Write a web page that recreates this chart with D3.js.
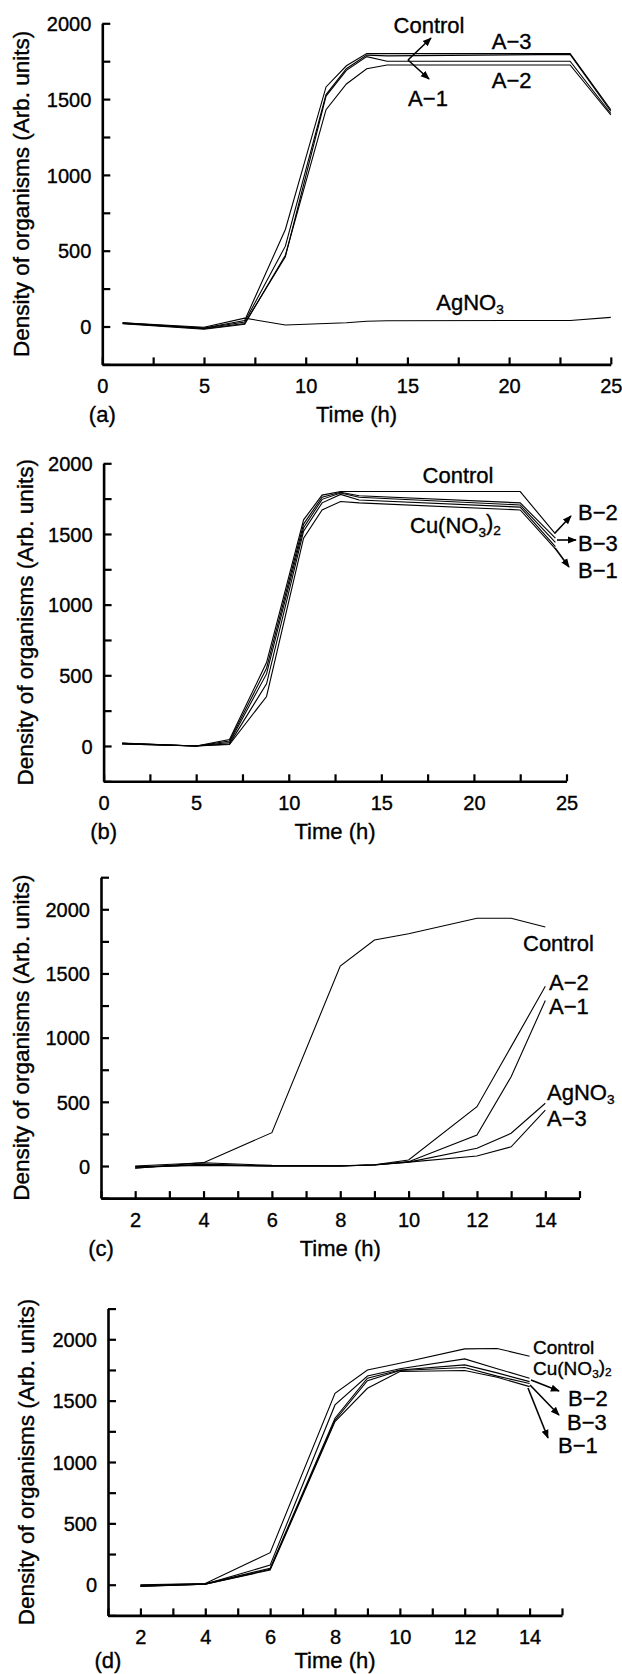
<!DOCTYPE html>
<html><head><meta charset="utf-8">
<script src="https://cdn.jsdelivr.net/npm/d3@7"></script>
<style>
body{margin:0;background:#fff}
svg{display:block}
text{font-family:"Liberation Sans",Arial,sans-serif;fill:#000;stroke:#000;stroke-width:0.35px}
</style>
</head><body>
<svg id="chart" width="622" height="1674"></svg>
<script>
// ---------- DATA ----------
// Panel (a)
const hoursA   = [1, 5, 7, 9, 11, 12, 13, 14, 23, 25];
const controlA = [25, -10, 40, 640, 1580, 1720, 1800, 1800, 1800, 1430];
const a3A      = [20, -12, 30, 530, 1530, 1700, 1790, 1785, 1795, 1420];
const a1A      = [22, -15, 20, 460, 1520, 1690, 1780, 1750, 1750, 1405];
const a2A      = [18, -18, 15, 470, 1430, 1600, 1700, 1725, 1725, 1395];
const agno3A   = [25, -5, 55, 10, 20, 25, 35, 38, 40, 60];
// Panel (b)
const hoursB   = [1, 5, 6.8, 8.8, 10.8, 11.8, 12.8, 13.8, 22.5, 24.4];
const controlB = [20, 0, 45, 590, 1600, 1775, 1800, 1800, 1800, 1500];
const b2B      = [18, 0, 35, 550, 1570, 1760, 1795, 1770, 1720, 1470];
const b3B      = [18, 0, 25, 510, 1545, 1745, 1790, 1760, 1705, 1440];
const b1B      = [15, 0, 15, 440, 1520, 1720, 1780, 1740, 1690, 1410];
const cuB      = [15, 0, 10, 350, 1470, 1670, 1730, 1720, 1670, 1395];
// Panel (c)
const hoursC   = [2, 4, 6, 8, 9, 10, 12, 13, 14];
const controlC = [-18, 26, 260, 1558, 1761, 1810, 1930, 1930, 1862];
const a2C      = [-10, 10, 0, 0, 10, 47, 462, 930, 1400];
const a1C      = [-15, 15, 0, 0, 8, 34, 241, 696, 1290];
const agno3C   = [0, 25, 5, 2, 10, 30, 138, 255, 489];
const a3C      = [-5, 5, 0, 0, 8, 30, 78, 150, 436];
// Panel (d)
const hoursD   = [2, 4, 6, 8, 9, 10, 12, 13, 14];
const controlD = [0, 10, 261, 1560, 1750, 1805, 1922, 1925, 1862];
const cuD      = [-15, 5, 160, 1465, 1701, 1760, 1840, 1760, 1683];
const b2D      = [-5, 8, 134, 1357, 1683, 1750, 1791, 1726, 1655];
const b3D      = [-10, 5, 125, 1340, 1663, 1745, 1770, 1700, 1640];
const b1D      = [-12, 5, 120, 1329, 1601, 1737, 1745, 1690, 1614];

const xTicksLong  = [0, 2.5, 5, 7.5, 10, 12.5, 15, 17.5, 20, 22.5, 25];
const xTicksShort = [1, 2, 3, 4, 5, 6, 7, 8, 9, 10, 11, 12, 13, 14, 15];
const yTicksAB = [-250, 0, 250, 500, 750, 1000, 1250, 1500, 1750, 2000];
const yTicksCD = [-250, 0, 250, 500, 750, 1000, 1250, 1500, 1750, 2000, 2250];
const xLabel = "Time (h)";
const yLabel = "Density of organisms (Arb. units)";

// ---------- LAYOUT ----------
const panels = [
  { tag: "(a)", x0: 102.3, x1: 610.8, xDomain: [0, 25], yTop: 23.3, yBottom: 364.4, yDomain: [-250, 2000],
    xTicks: xTicksLong, xLabelEvery: 5, yTicks: yTicksAB, titleDX: -81, capDY: 50,
    hours: hoursA, series: [controlA, a3A, a1A, a2A, agno3A],
    notes: [
      {t: "Control", x: 429, y: 25, anchor: "middle", size: 22},
      {t: "A\u22123", x: 511.7, y: 40.7, anchor: "middle", size: 22},
      {t: "A\u22122", x: 511.7, y: 80, anchor: "middle", size: 22},
      {t: "A\u22121", x: 428, y: 98, anchor: "middle", size: 22},
      {t: "AgNO", sub: "3", x: 470, y: 302, anchor: "middle", size: 22}
    ],
    arrows: [[408, 60, 431, 38], [408, 60, 429, 79]] },
  { tag: "(b)", x0: 103.6, x1: 566.5, xDomain: [0, 25], yTop: 463.3, yBottom: 781.3, yDomain: [-250, 2000],
    xTicks: xTicksLong, xLabelEvery: 5, yTicks: yTicksAB, titleDX: -79, capDY: 50,
    hours: hoursB, series: [controlB, b2B, b3B, b1B, cuB],
    notes: [
      {t: "Control", x: 458, y: 475, anchor: "middle", size: 22},
      {t: "Cu(NO", sub: "3", after: ")", sub2: "2", x: 410, y: 525, anchor: "start", size: 22},
      {t: "B\u22122", x: 578, y: 512, anchor: "start", size: 22},
      {t: "B\u22123", x: 578, y: 543, anchor: "start", size: 22},
      {t: "B\u22121", x: 578, y: 570, anchor: "start", size: 22}
    ],
    arrows: [[555, 533, 571, 516], [557, 540, 576, 540], [555, 548, 569, 567]] },
  { tag: "(c)", x0: 101, x1: 579.5, xDomain: [1, 15], yTop: 877.2, yBottom: 1198.1, yDomain: [-250, 2250],
    xTicks: xTicksShort, xLabelEvery: 2, yTicks: yTicksCD, titleDX: -80, capDY: 50,
    hours: hoursC, series: [controlC, a2C, a1C, agno3C, a3C],
    notes: [
      {t: "Control", x: 523, y: 943, anchor: "start", size: 22},
      {t: "A\u22122", x: 549, y: 982, anchor: "start", size: 22},
      {t: "A\u22121", x: 549, y: 1006, anchor: "start", size: 22},
      {t: "AgNO", sub: "3", x: 547, y: 1092, anchor: "start", size: 22},
      {t: "A\u22123", x: 547, y: 1118, anchor: "start", size: 22}
    ],
    arrows: [] },
  { tag: "(d)", x0: 108, x1: 562, xDomain: [1, 15], yTop: 1308.6, yBottom: 1615.4, yDomain: [-250, 2250],
    xTicks: xTicksShort, xLabelEvery: 2, yTicks: yTicksCD, titleDX: -82, capDY: 44.5,
    hours: hoursD, series: [controlD, cuD, b2D, b3D, b1D],
    notes: [
      {t: "Control", x: 533, y: 1347, anchor: "start", size: 19},
      {t: "Cu(NO", sub: "3", after: ")", sub2: "2", x: 533, y: 1368, anchor: "start", size: 19},
      {t: "B\u22122", x: 568, y: 1398, anchor: "start", size: 22},
      {t: "B\u22123", x: 567, y: 1422, anchor: "start", size: 22},
      {t: "B\u22121", x: 558, y: 1445, anchor: "start", size: 22}
    ],
    arrows: [[531, 1380, 559, 1391], [530, 1385, 559, 1415], [528, 1388, 548, 1438]] }
];

// ---------- DRAW ----------
const svg = d3.select("#chart");
const defs = svg.append("defs");
defs.append("marker").attr("id", "arrow").attr("viewBox", "0 0 10 10")
  .attr("refX", 9).attr("refY", 5).attr("markerWidth", 9).attr("markerHeight", 9)
  .attr("markerUnits", "userSpaceOnUse").attr("orient", "auto")
  .append("path").attr("d", "M0,1 L10,5 L0,9 Z").attr("fill", "#000");

panels.forEach(p => {
  const x = d3.scaleLinear().domain(p.xDomain).range([p.x0, p.x1]);
  const y = d3.scaleLinear().domain([p.yDomain[0], p.yDomain[1]]).range([p.yBottom, p.yTop]);
  const g = svg.append("g");

  // lines
  const line = d3.line().x(d => x(d[0])).y(d => y(d[1]));
  p.series.forEach(vals => {
    g.append("path").datum(p.hours.map((h, i) => [h, vals[i]]))
      .attr("d", line).attr("fill", "none").attr("stroke", "#000")
      .attr("stroke-width", 1.1).attr("stroke-linejoin", "miter");
  });

  // y axis
  const ya = d3.axisLeft(y).tickValues(p.yTicks).tickSizeInner(-8).tickSizeOuter(0).tickPadding(11)
    .tickFormat(v => (v >= 0 && v % 500 === 0) ? String(v) : "");
  const yg = g.append("g").attr("transform", `translate(${p.x0},0)`).call(ya);
  yg.select(".domain").attr("stroke-width", 2.6);
  yg.selectAll(".tick line").attr("stroke-width", 2.2);
  yg.selectAll(".tick text").attr("font-size", 20).attr("font-family", null).attr("dy", "0.36em");

  // x axis
  const xa = d3.axisBottom(x).tickValues(p.xTicks).tickSizeInner(-7).tickSizeOuter(0).tickPadding(0)
    .tickFormat(v => (v % p.xLabelEvery === 0) ? String(v) : "");
  const xg = g.append("g").attr("transform", `translate(0,${p.yBottom})`).call(xa);
  xg.select(".domain").attr("stroke-width", 2.6);
  xg.selectAll(".tick line").attr("stroke-width", 2.2);
  xg.selectAll(".tick text").attr("font-size", 20).attr("font-family", null)
    .attr("y", 21.5).attr("dy", "0.36em");

  // axis titles
  g.append("text").attr("x", (p.x0 + p.x1) / 2).attr("y", p.yBottom + p.capDY).attr("dy", "0.36em")
    .attr("text-anchor", "middle").attr("font-size", 22).text(xLabel);
  g.append("text").attr("x", p.x0).attr("y", p.yBottom + p.capDY).attr("dy", "0.36em")
    .attr("text-anchor", "middle").attr("font-size", 22).text(p.tag);
  g.append("text").attr("transform", `translate(${p.x0 + p.titleDX},${(p.yTop + p.yBottom) / 2}) rotate(-90)`)
    .attr("dy", "0.36em").attr("text-anchor", "middle").attr("font-size", 22.5).text(yLabel);

  // annotations
  p.notes.forEach(n => {
    const t = g.append("text").attr("x", n.x).attr("y", n.y).attr("dy", "0.36em")
      .attr("text-anchor", n.anchor).attr("font-size", n.size);
    t.append("tspan").text(n.t);
    if (n.sub) {
      t.append("tspan").attr("dy", "0.3em").attr("font-size", n.size * 0.62).text(n.sub);
      if (n.after) {
        t.append("tspan").attr("dy", "-0.3em").text(n.after);
        t.append("tspan").attr("dy", "0.3em").attr("font-size", n.size * 0.62).text(n.sub2);
      }
    }
  });
  p.arrows.forEach(a => {
    g.append("line").attr("x1", a[0]).attr("y1", a[1]).attr("x2", a[2]).attr("y2", a[3])
      .attr("stroke", "#000").attr("stroke-width", 1.6).attr("marker-end", "url(#arrow)");
  });
});
</script>
</body></html>
